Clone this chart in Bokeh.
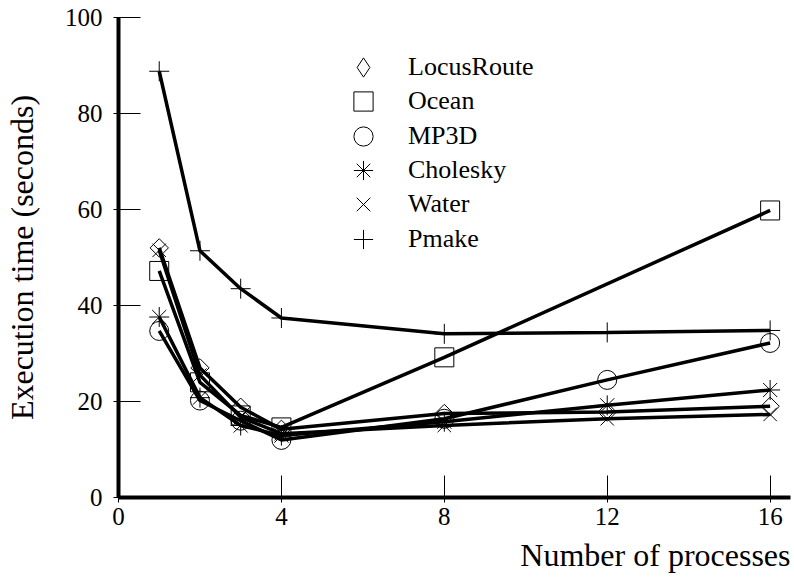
import math
from bokeh.plotting import figure
from bokeh.models import Legend, LegendItem, Title, FixedTicker, Range1d
from bokeh.embed import file_html
from bokeh.resources import INLINE

# ---- data ----
processes = [1, 2, 3, 4, 8, 12, 16]
ocean_processes = [1, 2, 3, 4, 8, 16]
locusroute = [52.0, 27.0, 18.8, 14.2, 17.5, 17.8, 19.0]
ocean = [47.2, 24.0, 17.1, 14.6, 29.2, 59.8]
mp3d = [34.7, 20.2, 16.0, 12.0, 16.4, 24.5, 32.2]
cholesky = [37.6, 20.8, 15.0, 12.9, 15.8, 19.2, 22.4]
water = [51.5, 25.5, 16.7, 13.3, 15.0, 16.4, 17.3]
pmake = [88.8, 51.4, 43.5, 37.4, 34.1, 34.4, 34.8]

series_names = ["LocusRoute", "Ocean", "MP3D", "Cholesky", "Water", "Pmake"]
x_ticks = [0, 4, 8, 12, 16]
y_ticks = [0, 20, 40, 60, 80, 100]

SERIF = "'Liberation Serif', 'Times New Roman', Times, serif"

FRAME_LEFT, FRAME_TOP, FRAME_BOTTOM_BORDER, FRAME_RIGHT_BORDER = 118, 17, 85, 4
W, H = 794, 582
frame_bottom = H - FRAME_BOTTOM_BORDER

p = figure(width=W, height=H, output_backend="svg", toolbar_location=None,
           x_range=Range1d(0, 16.5), y_range=Range1d(0, 100),
           min_border_left=FRAME_LEFT, min_border_right=FRAME_RIGHT_BORDER,
           min_border_top=FRAME_TOP, min_border_bottom=FRAME_BOTTOM_BORDER)
p.background_fill_color = "white"
p.border_fill_color = "white"
p.outline_line_color = None
p.grid.grid_line_color = None
# a range in which no data is visible: used for a legend-only glyph
p.extra_y_ranges = {"legend_only": Range1d(-2, -1)}

series = [
    (series_names[0], processes, locusroute, dict(marker="square", size=13, angle=math.pi / 4)),
    (series_names[1], ocean_processes, ocean, dict(marker="square", size=19)),
    (series_names[2], processes, mp3d, dict(marker="circle", size=19)),
    (series_names[3], processes, cholesky, dict(marker="asterisk", size=20)),
    (series_names[4], processes, water, dict(marker="x", size=19)),
    (series_names[5], processes, pmake, dict(marker="cross", size=20)),
]

GLYPH = 48
row0_center, row_pitch = 67, 34.3
glyph_center_x, label_x = 363, 408

for i, (name, xs, ys, mk) in enumerate(series):
    r = p.scatter(xs, ys, fill_color=None, line_color="black", line_width=1, **mk)
    p.line(xs, ys, line_color="black", line_width=3.5)
    if i == 0:
        # the legend cannot rotate markers, so its glyph uses a diamond marker
        r = p.scatter(xs, ys, marker="diamond", size=21, fill_color=None,
                      line_color="black", line_width=1, y_range_name="legend_only")
    center_y = row0_center + row_pitch * i
    leg = Legend(items=[LegendItem(label=name, renderers=[r])],
                 location=(glyph_center_x - GLYPH / 2 - FRAME_LEFT,
                           frame_bottom - (center_y + GLYPH / 2)),
                 glyph_width=GLYPH, glyph_height=GLYPH, label_height=20,
                 label_standoff=int(label_x - (glyph_center_x + GLYPH / 2)),
                 padding=0, margin=0, border_line_color=None, background_fill_alpha=0,
                 label_text_font=SERIF, label_text_font_size="26px",
                 label_text_font_style="normal", label_text_color="black")
    p.add_layout(leg, "center")

for ax in (p.xaxis, p.yaxis):
    ax.axis_line_width = 4
    ax.axis_line_color = "black"
    ax.major_tick_in = 22
    ax.major_tick_out = 5
    ax.major_tick_line_width = 1
    ax.major_tick_line_color = "black"
    ax.minor_tick_line_color = None
    ax.major_label_text_font = SERIF
    ax.major_label_text_font_size = "25px"
    ax.major_label_text_font_style = "normal"
    ax.major_label_text_color = "black"

p.xaxis.ticker = FixedTicker(ticks=x_ticks)
p.yaxis.ticker = FixedTicker(ticks=y_ticks)
p.xaxis.major_label_standoff = 5
p.yaxis.major_label_standoff = 11

p.yaxis.axis_label = "Execution time (seconds)"
p.yaxis.axis_label_text_font = SERIF
p.yaxis.axis_label_text_font_size = "32px"
p.yaxis.axis_label_text_font_style = "normal"
p.yaxis.axis_label_text_color = "black"
p.yaxis.axis_label_standoff = 22

xtitle = Title(text="Number of processes", align="right", text_font=SERIF,
               text_font_size="32px", text_font_style="normal", text_color="black",
               standoff=14, offset=0)
p.add_layout(xtitle, "below")

open("out.html", "w").write(file_html(p, INLINE))
